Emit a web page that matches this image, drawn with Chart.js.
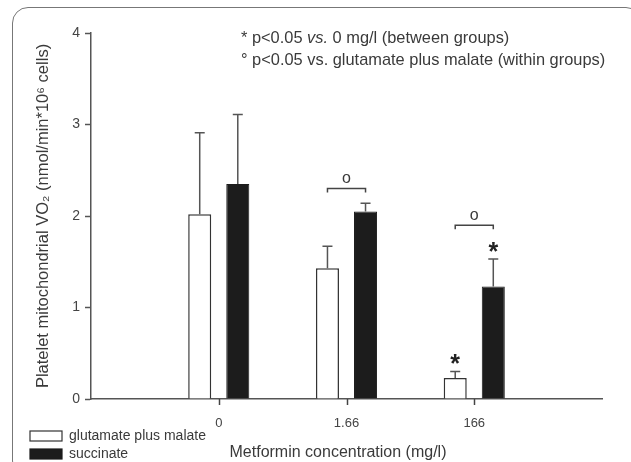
<!DOCTYPE html>
<html>
<head>
<meta charset="utf-8">
<script src="https://cdn.jsdelivr.net/npm/chart.js@4"></script>
<style>
  html, body { margin: 0; padding: 0; background: #fff; overflow: hidden; }
  #wrap { position: relative; width: 631px; height: 462px; }
  #frame { position: absolute; left: 12px; top: 7px; width: 630px; height: 470px;
           border: 1.5px solid #777; border-radius: 16px; box-sizing: border-box; }
  canvas { position: absolute; left: 0; top: 0; }
</style>
</head>
<body>
<div id="wrap">
  <div id="frame"></div>
  <canvas id="chart" width="631" height="462"></canvas>
</div>
<script>
// data (empty slots at both ends pad the axis)
const categories = ['', '0', '1.66', '166', ''];
const glutamateMalate = [null, 2.02, 1.43, 0.23, null];
const glutamateMalateSD = [null, 0.89, 0.24, 0.07, null];
const succinate = [null, 2.35, 2.05, 1.23, null];
const succinateSD = [null, 0.76, 0.09, 0.30, null];
const yTicks = [0, 1, 2, 3, 4];

// significance marks
const bracketIndex = [2, 3];
const bracketLevel = [2.30, 1.90];
const starMarks = [[0, 3], [1, 3]];   // [dataset, category]

const font = '"Liberation Sans", Arial, sans-serif';
const ink = '#3a3a3a';

const errorBars = {
  id: 'errorBars',
  afterDatasetsDraw(chart) {
    const ctx = chart.ctx;
    const y = chart.scales.y;
    const sds = [glutamateMalateSD, succinateSD];
    ctx.save();
    ctx.strokeStyle = '#555';
    ctx.lineWidth = 1.5;
    chart.data.datasets.forEach((ds, i) => {
      chart.getDatasetMeta(i).data.forEach((bar, j) => {
        if (ds.data[j] == null) return;
        const top = y.getPixelForValue(ds.data[j] + sds[i][j]);
        ctx.beginPath();
        ctx.moveTo(bar.x, bar.y);
        ctx.lineTo(bar.x, top);
        ctx.moveTo(bar.x - 5, top);
        ctx.lineTo(bar.x + 5, top);
        ctx.stroke();
      });
    });
    ctx.restore();
  }
};

const notes = {
  id: 'notes',
  afterDraw(chart) {
    const ctx = chart.ctx;
    const x = chart.scales.x, y = chart.scales.y;
    const sds = [glutamateMalateSD, succinateSD];
    ctx.save();

    // category tick marks below the x axis (only for real categories)
    ctx.strokeStyle = '#444';
    ctx.lineWidth = 1.5;
    categories.forEach((c, i) => {
      if (!c) return;
      const px = Math.round(x.getPixelForValue(i)) + 0.5;
      ctx.beginPath();
      ctx.moveTo(px, y.bottom);
      ctx.lineTo(px, y.bottom + 6);
      ctx.stroke();
    });

    // brackets with "o"
    bracketIndex.forEach((c, k) => {
      const x0 = chart.getDatasetMeta(0).data[c].x;
      const x1 = chart.getDatasetMeta(1).data[c].x;
      const yy = y.getPixelForValue(bracketLevel[k]);
      ctx.beginPath();
      ctx.moveTo(x0, yy + 4);
      ctx.lineTo(x0, yy);
      ctx.lineTo(x1, yy);
      ctx.lineTo(x1, yy + 4);
      ctx.stroke();
      ctx.fillStyle = ink;
      ctx.font = '16px ' + font;
      ctx.textAlign = 'center';
      ctx.textBaseline = 'middle';
      ctx.fillText('o', (x0 + x1) / 2, yy - 10);
    });

    // asterisks
    ctx.fillStyle = '#222';
    ctx.font = 'bold 25px ' + font;
    ctx.textAlign = 'center';
    ctx.textBaseline = 'middle';
    starMarks.forEach(([d, c]) => {
      const bar = chart.getDatasetMeta(d).data[c];
      const v = chart.data.datasets[d].data[c] + sds[d][c];
      ctx.fillText('*', bar.x, y.getPixelForValue(v) - 6);
    });

    // note lines at top
    ctx.fillStyle = ink;
    ctx.textAlign = 'left';
    ctx.textBaseline = 'alphabetic';
    const f = '16.4px ' + font;
    let tx = 241;
    ctx.font = f;
    ctx.fillText('* p<0.05 ', tx, 43);
    tx += ctx.measureText('* p<0.05 ').width;
    ctx.font = 'italic ' + f;
    ctx.fillText('vs.', tx, 43);
    tx += ctx.measureText('vs.').width;
    ctx.font = f;
    ctx.fillText(' 0 mg/l (between groups)', tx, 43);
    ctx.fillText('\u00b0 p<0.05 vs. glutamate plus malate (within groups)', 241, 65);

    // x title
    ctx.font = '16px ' + font;
    ctx.textAlign = 'center';
    ctx.fillText('Metformin concentration (mg/l)', 338, 457);

    // legend
    ctx.font = '14px ' + font;
    ctx.textAlign = 'left';
    ctx.textBaseline = 'middle';
    chart.data.datasets.forEach((ds, i) => {
      const ly = 431 + i * 18;
      ctx.fillStyle = ds.backgroundColor;
      ctx.strokeStyle = ds.borderColor;
      ctx.lineWidth = 1.2;
      ctx.fillRect(30, ly, 32, 10);
      ctx.strokeRect(30, ly, 32, 10);
      ctx.fillStyle = ink;
      ctx.fillText(ds.label, 69, ly + 5);
    });
    ctx.restore();
  }
};

new Chart(document.getElementById('chart'), {
  type: 'bar',
  data: {
    labels: categories,
    datasets: [
      { label: 'glutamate plus malate', data: glutamateMalate,
        backgroundColor: '#ffffff', borderColor: '#333', borderWidth: 1.5 },
      { label: 'succinate', data: succinate,
        backgroundColor: '#1c1c1c', borderColor: '#1c1c1c', borderWidth: 1 }
    ]
  },
  options: {
    responsive: false,
    animation: false,
    categoryPercentage: 0.596,
    barPercentage: 0.605,
    layout: { padding: { left: 0, top: 33, right: 29, bottom: 0 } },
    plugins: { legend: { display: false }, tooltip: { enabled: false } },
    scales: {
      x: {
        type: 'category',
        offset: false,
        afterFit(s) { s.height = 63; },
        grid: { offset: false, display: false, tickLength: 6 },
        border: { display: true, color: '#555', width: 1.5 },
        ticks: { font: { family: font, size: 13 }, color: '#444', padding: 11, maxRotation: 0, autoSkip: false }
      },
      y: {
        min: 0, max: 4,
        afterFit(s) { s.width = 91; },
        afterBuildTicks(s) { s.ticks = yTicks.map(v => ({ value: v })); },
        grid: { drawOnChartArea: false, tickLength: 6, tickColor: '#555', tickWidth: 1.5 },
        border: { color: '#555', width: 1.5 },
        ticks: { font: { family: font, size: 14 }, color: '#444', padding: 5 },
        title: { display: true, text: 'Platelet mitochondrial VO\u2082 (nmol/min*10\u2076 cells)',
                 color: ink, font: { family: font, size: 16.5 }, padding: { top: 34 } }
      }
    }
  },
  plugins: [errorBars, notes]
});
</script>
</body>
</html>
